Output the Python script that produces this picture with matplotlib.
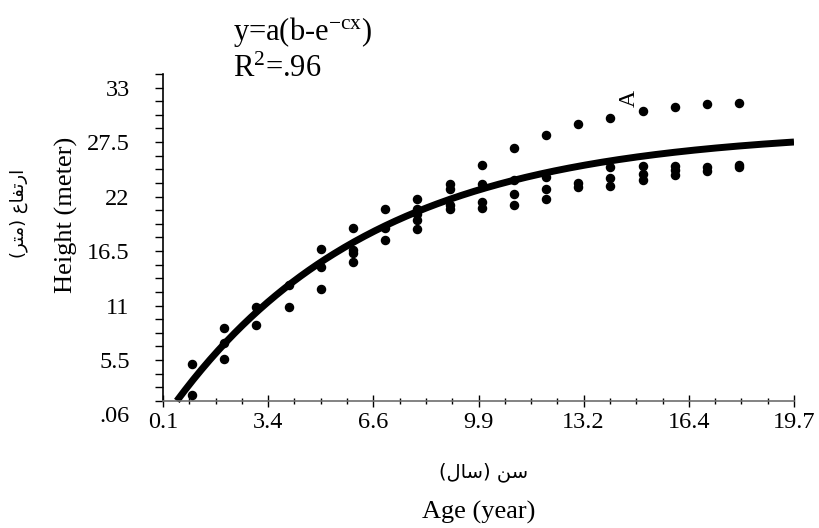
import numpy as np
import matplotlib
matplotlib.use('Agg')
import matplotlib.pyplot as plt
from matplotlib.ticker import FixedLocator, FixedFormatter

ages = [1, 1,
        2, 2, 2,
        3, 3,
        4, 4,
        5, 5, 5,
        6, 6, 6, 6,
        7, 7, 7,
        8, 8, 8, 8, 8,
        9, 9, 9, 9,
        10, 10, 10, 10,
        11, 11, 11, 11,
        12, 12, 12, 12,
        13, 13, 13,
        14, 14, 14, 14,
        15, 15, 15, 15,
        16, 16, 16, 16,
        17, 17, 17,
        18, 18, 18]
heights = [5.1, 2.0,
           8.7, 7.2, 5.6,
           10.9, 9.0,
           13.1, 10.9,
           16.7, 14.9, 12.7,
           18.8, 16.6, 16.3, 15.4,
           20.8, 18.8, 17.6,
           21.8, 20.8, 20.2, 19.6, 18.7,
           23.3, 22.8, 21.2, 20.7,
           25.2, 23.3, 21.5, 20.9,
           26.9, 23.7, 22.3, 21.2,
           28.2, 24.0, 22.8, 21.8,
           29.3, 23.4, 23.0,
           29.9, 25.0, 23.9, 23.1,
           30.6, 25.1, 24.3, 23.7,
           31.0, 25.1, 24.7, 24.2,
           31.3, 25.0, 24.6,
           31.4, 25.2, 25.0]

# Fitted curve y = a(b - e^(-cx)), parameters estimated from the drawn line
a = 29.83
b = 0.965
c = 0.16
x_start = 0.53
x_end = 19.7

x_tick_labels = ['0.1', '3.4', '6.6', '9.9', '13.2', '16.4', '19.7']
y_ticks = [0.06, 5.5, 11, 16.5, 22, 27.5, 33]
y_tick_labels = ['.06', '5.5', '11', '16.5', '22', '27.5', '33']

# Persian labels, written with Arabic presentation forms in visual order
# (matplotlib does not shape or reorder right-to-left text)
y_label_fa = '(\uFEAE\uFE98\uFEE3) \uFEC9\uFE8E\uFED4\uFE97\uFEAD\uFE8D'   # ارتفاع (متر)
x_label_fa = '(\uFEDD\uFE8E\uFEB3) \uFEE6\uFEB3'                           # سن (سال)

plt.rcParams['font.family'] = ['Liberation Serif', 'DejaVu Sans']
plt.rcParams['mathtext.fontset'] = 'custom'
plt.rcParams['mathtext.rm'] = 'Liberation Serif'
plt.rcParams['mathtext.it'] = 'Liberation Serif:italic'

W, H = 819, 528
fig = plt.figure(figsize=(W / 100, H / 100), dpi=100)
ax = fig.add_axes([163 / W, (H - 414) / H, (794 - 163) / W, (414 - 74) / H])

# Curve and points
x_fit = np.linspace(x_start, x_end, 300)
y_fit = a * (b - np.exp(-c * x_fit))
ax.plot(x_fit, y_fit, color='black', linewidth=5, solid_capstyle='butt', zorder=2)
ax.scatter(ages, heights, s=34, color='black', zorder=3)

ax.set_xlim(0.1, 19.7)
ax.set_ylim(0.06, 34.375)

# Spines: x axis crosses a little above the bottom of the scale
for side in ['top', 'right']:
    ax.spines[side].set_visible(False)
ax.spines['bottom'].set_position(('data', 1.375))
ax.spines['bottom'].set_color('#6e6e6e')
ax.spines['bottom'].set_linewidth(1.2)
ax.spines['left'].set_bounds(1.375, 34.375)
ax.spines['left'].set_linewidth(1.2)

# X ticks
ax.xaxis.set_major_locator(FixedLocator(np.linspace(0.1, 19.7, 7)))
ax.xaxis.set_major_formatter(FixedFormatter(x_tick_labels))
ax.xaxis.set_minor_locator(FixedLocator(np.linspace(0.1, 19.7, 25)))
ax.tick_params(axis='x', which='major', direction='inout', length=8, width=1, labelsize=17.5, pad=4)
ax.tick_params(axis='x', which='minor', direction='inout', length=5, width=1)

# Y ticks
ax.yaxis.set_major_locator(FixedLocator(y_ticks))
ax.yaxis.set_major_formatter(FixedFormatter(y_tick_labels))
ax.yaxis.set_minor_locator(FixedLocator(np.arange(1.375, 34.4, 1.375)))
ax.tick_params(axis='y', which='both', direction='out', length=6, width=1)
ax.tick_params(axis='y', which='major', labelsize=17.5, pad=18)
ax.yaxis.get_major_ticks()[0].tick1line.set_visible(False)

# Label for the outlying tree row
ax.text(14.58, 31.92, 'A', rotation=90, fontsize=17, ha='center', va='center')

# Equation and R2
fig.text(233 / W, 1 - 40 / H, r'y=a(b-e$^{\mathrm{-cx}}$)', fontsize=22, ha='left', va='baseline')
fig.text(233 / W, 1 - 77 / H, r'R$^{\mathrm{2}}$=.96', fontsize=22, ha='left', va='baseline')

# Axis titles
fig.text(66 / W, 1 - 215 / H, 'Height (meter)', rotation=90, fontsize=19, ha='center', va='center')
fig.text(19 / W, 1 - 213 / H, y_label_fa, rotation=90, fontsize=13, family='DejaVu Sans',
         ha='center', va='center')
fig.text(484 / W, 1 - 472 / H, x_label_fa, fontsize=14, family='DejaVu Sans', ha='center', va='center')
fig.text(479 / W, 1 - 512 / H, 'Age (year)', fontsize=19, ha='center', va='center')

fig.savefig('out.png', dpi=100)
